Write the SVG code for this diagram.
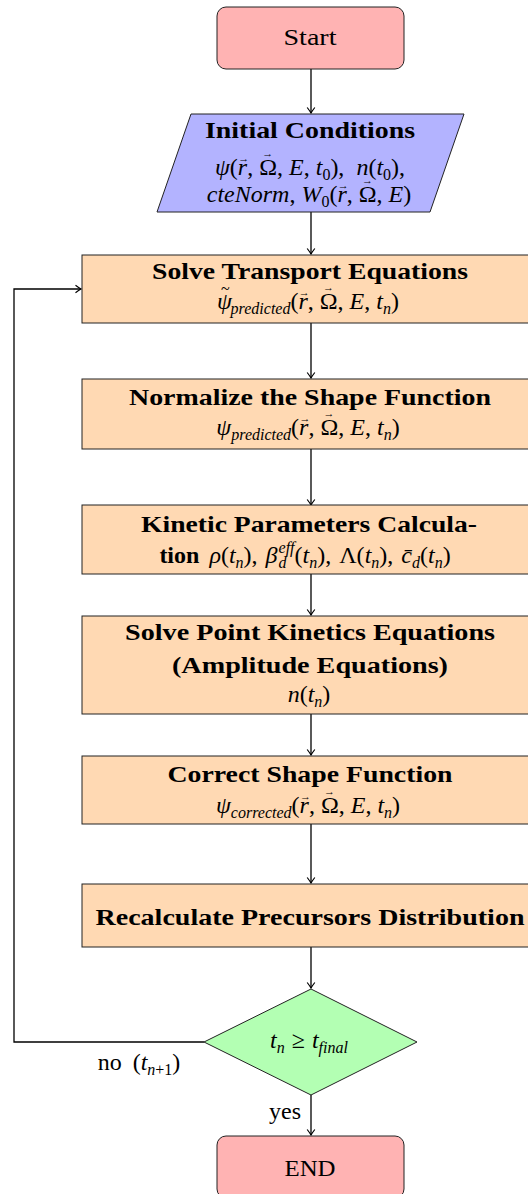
<svg xmlns="http://www.w3.org/2000/svg" width="528" height="1194" viewBox="0 0 528 1194">
<defs>
<style>
.t{font-family:"Liberation Serif","DejaVu Serif",serif;font-size:24px;fill:#000;text-anchor:middle}
.b{font-weight:bold}
.i{font-style:italic}
.s{font-size:16px}
.v{font-size:11px;font-style:normal;font-weight:normal}
.node{stroke:#222;stroke-width:1}
.term{fill:#ffb3b3}
.io{fill:#b3b3ff}
.proc{fill:#ffd9b3}
.dec{fill:#b3ffb3}
.con{fill:none;stroke:#000;stroke-width:1.3}
</style>
<marker id="arr" viewBox="-7 -5 8 10" refX="0" refY="0" markerWidth="8" markerHeight="10" markerUnits="userSpaceOnUse" orient="auto">
<path d="M-5.5,-3.8 Q-1.5,-0.8 0,0 Q-1.5,0.8 -5.5,3.8" fill="none" stroke="#000" stroke-width="1.2"/>
</marker>
</defs>
<rect width="528" height="1194" fill="#fff"/>

<g id="connectors">
<line class="con" x1="311" y1="69" x2="311" y2="113" marker-end="url(#arr)"/>
<line class="con" x1="311" y1="212" x2="311" y2="254" marker-end="url(#arr)"/>
<line class="con" x1="311" y1="323" x2="311" y2="378" marker-end="url(#arr)"/>
<line class="con" x1="311" y1="449" x2="311" y2="505" marker-end="url(#arr)"/>
<line class="con" x1="311" y1="574" x2="311" y2="615" marker-end="url(#arr)"/>
<line class="con" x1="311" y1="714" x2="311" y2="755" marker-end="url(#arr)"/>
<line class="con" x1="311" y1="824" x2="311" y2="883" marker-end="url(#arr)"/>
<line class="con" x1="311" y1="947" x2="311" y2="988" marker-end="url(#arr)"/>
<line class="con" x1="311" y1="1095" x2="311" y2="1135" marker-end="url(#arr)"/>
<polyline class="con" points="204,1042 14,1042 14,289 81,289" marker-end="url(#arr)"/>
<text class="t" x="139" y="1070">no <tspan dx="5">(</tspan><tspan class="i">t</tspan><tspan class="s" dy="5"><tspan class="i">n</tspan>+1</tspan><tspan dy="-5">)</tspan></text>
<text class="t" x="285" y="1119">yes</text>
</g>

<g id="start">
<rect class="node term" x="217" y="7" width="187" height="62" rx="9"/>
<text class="t" x="310" y="45" textLength="53" lengthAdjust="spacingAndGlyphs">Start</text>
</g>

<g id="initial">
<polygon class="node io" points="191,114 464,114 430,212 157,212"/>
<text class="t b" x="310" y="138" textLength="210" lengthAdjust="spacingAndGlyphs">Initial Conditions</text>
<text class="t" x="310" y="175"><tspan class="i">ψ</tspan>(<tspan class="i">r</tspan><tspan class="v" dx="-9" dy="-13">→</tspan><tspan dx="-2" dy="13">, Ω</tspan><tspan class="v" dx="-14.7" dy="-18">→</tspan><tspan dx="3.7" dy="18">, </tspan><tspan class="i">E</tspan>, <tspan class="i">t</tspan><tspan class="s" dy="5">0</tspan><tspan dy="-5">), </tspan><tspan class="i" dx="6">n</tspan>(<tspan class="i">t</tspan><tspan class="s" dy="5">0</tspan><tspan dy="-5">),</tspan></text>
<text class="t" x="309" y="202"><tspan class="i">cteNorm</tspan>, <tspan class="i">W</tspan><tspan class="s" dy="5">0</tspan><tspan dy="-5">(</tspan><tspan class="i">r</tspan><tspan class="v" dx="-9" dy="-13">→</tspan><tspan dx="-2" dy="13">, Ω</tspan><tspan class="v" dx="-14.7" dy="-18">→</tspan><tspan dx="3.7" dy="18">, </tspan><tspan class="i">E</tspan>)</text>
</g>

<g id="transport">
<rect class="node proc" x="82" y="255" width="458" height="68"/>
<text class="t b" x="310" y="279" textLength="316" lengthAdjust="spacingAndGlyphs">Solve Transport Equations</text>
<text class="t" x="308" y="309"><tspan class="i">ψ</tspan><tspan dx="-11" dy="-15" style="font-size:16px">~</tspan><tspan class="i s" dx="1" dy="20">predicted</tspan><tspan dy="-5">(</tspan><tspan class="i">r</tspan><tspan class="v" dx="-9" dy="-13">→</tspan><tspan dx="-2" dy="13">, Ω</tspan><tspan class="v" dx="-14.7" dy="-18">→</tspan><tspan dx="3.7" dy="18">, </tspan><tspan class="i">E</tspan>, <tspan class="i">t</tspan><tspan class="i s" dy="5">n</tspan><tspan dy="-5">)</tspan></text>
</g>

<g id="normalize">
<rect class="node proc" x="82" y="379" width="458" height="70"/>
<text class="t b" x="310" y="405" textLength="362" lengthAdjust="spacingAndGlyphs">Normalize the Shape Function</text>
<text class="t" x="308" y="435"><tspan class="i">ψ</tspan><tspan class="i s" dy="5">predicted</tspan><tspan dy="-5">(</tspan><tspan class="i">r</tspan><tspan class="v" dx="-9" dy="-13">→</tspan><tspan dx="-2" dy="13">, Ω</tspan><tspan class="v" dx="-14.7" dy="-18">→</tspan><tspan dx="3.7" dy="18">, </tspan><tspan class="i">E</tspan>, <tspan class="i">t</tspan><tspan class="i s" dy="5">n</tspan><tspan dy="-5">)</tspan></text>
</g>

<g id="kinetic">
<rect class="node proc" x="82" y="505" width="458" height="69"/>
<text class="t b" x="309" y="532" textLength="336" lengthAdjust="spacingAndGlyphs">Kinetic Parameters Calcula-</text>
<text class="t" x="305" y="563"><tspan class="b">tion</tspan><tspan class="i" dx="10">ρ</tspan>(<tspan class="i">t</tspan><tspan class="i s" dy="5">n</tspan><tspan dy="-5">),</tspan><tspan class="i" dx="8">β</tspan><tspan class="i s" dx="1" dy="-10">eff</tspan><tspan class="i s" dx="-16" dy="15">d</tspan><tspan dx="8" dy="-5">(</tspan><tspan class="i">t</tspan><tspan class="i s" dy="5">n</tspan><tspan dy="-5">),</tspan><tspan dx="8">Λ(</tspan><tspan class="i">t</tspan><tspan class="i s" dy="5">n</tspan><tspan dy="-5">),</tspan><tspan class="i" dx="8">c̄</tspan><tspan class="i s" dy="5">d</tspan><tspan dy="-5">(</tspan><tspan class="i">t</tspan><tspan class="i s" dy="5">n</tspan><tspan dy="-5">)</tspan></text>
</g>

<g id="pointkinetics">
<rect class="node proc" x="82" y="616" width="458" height="98"/>
<text class="t b" x="310" y="640" textLength="370" lengthAdjust="spacingAndGlyphs">Solve Point Kinetics Equations</text>
<text class="t b" x="310" y="673" textLength="276" lengthAdjust="spacingAndGlyphs">(Amplitude Equations)</text>
<text class="t" x="309" y="702"><tspan class="i">n</tspan>(<tspan class="i">t</tspan><tspan class="i s" dy="5">n</tspan><tspan dy="-5">)</tspan></text>
</g>

<g id="correct">
<rect class="node proc" x="82" y="756" width="458" height="68"/>
<text class="t b" x="310" y="782" textLength="285" lengthAdjust="spacingAndGlyphs">Correct Shape Function</text>
<text class="t" x="308" y="813"><tspan class="i">ψ</tspan><tspan class="i s" dy="5">corrected</tspan><tspan dy="-5">(</tspan><tspan class="i">r</tspan><tspan class="v" dx="-9" dy="-13">→</tspan><tspan dx="-2" dy="13">, Ω</tspan><tspan class="v" dx="-14.7" dy="-18">→</tspan><tspan dx="3.7" dy="18">, </tspan><tspan class="i">E</tspan>, <tspan class="i">t</tspan><tspan class="i s" dy="5">n</tspan><tspan dy="-5">)</tspan></text>
</g>

<g id="recalculate">
<rect class="node proc" x="82" y="884" width="458" height="63"/>
<text class="t b" x="310" y="925" textLength="429" lengthAdjust="spacingAndGlyphs">Recalculate Precursors Distribution</text>
</g>

<g id="decision">
<polygon class="node dec" points="311,989 417,1042 311,1095 204,1042"/>
<text class="t" x="309" y="1048"><tspan class="i">t</tspan><tspan class="i s" dy="5">n</tspan><tspan dx="7" dy="-5">≥</tspan><tspan class="i" dx="7">t</tspan><tspan class="i s" dy="5">final</tspan></text>
</g>

<g id="end">
<rect class="node term" x="217" y="1136" width="187" height="62" rx="9"/>
<text class="t" x="310" y="1176" textLength="51" lengthAdjust="spacingAndGlyphs">END</text>
</g>
</svg>
